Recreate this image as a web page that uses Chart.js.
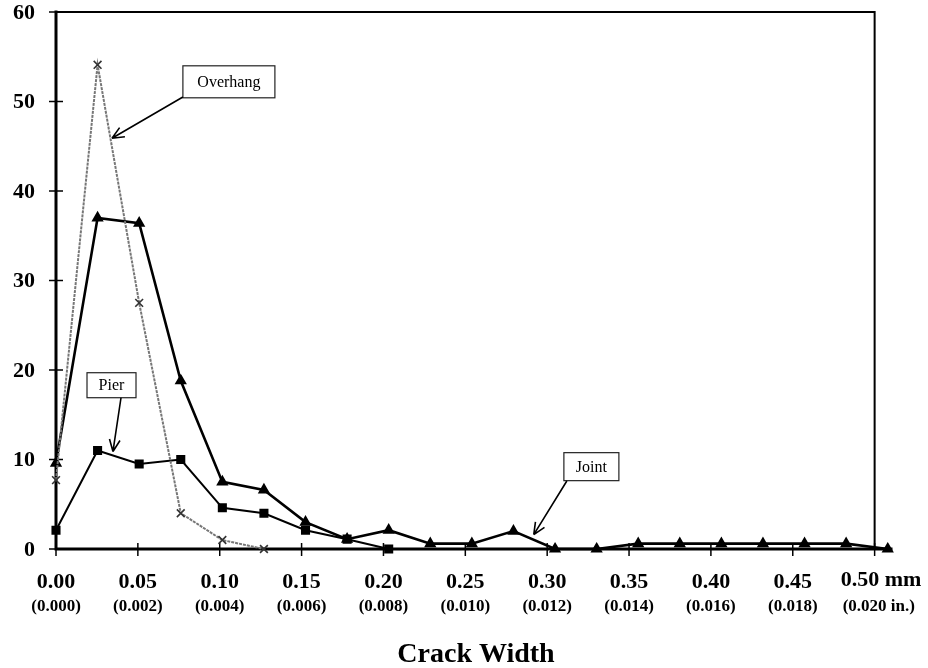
<!DOCTYPE html>
<html>
<head>
<meta charset="utf-8">
<title>Crack Width</title>
<script src="https://cdn.jsdelivr.net/npm/chart.js@4.4.1/dist/chart.umd.min.js"></script>
<style>
  html, body { margin: 0; padding: 0; background: #fff; }
  canvas { display: block; }
</style>
</head>
<body>
<canvas id="chart" width="928" height="668"></canvas>
<script>
'use strict';

// crack widths measured in steps of 0.001 in. (0.0254 mm)
const widthIn = [0.000, 0.001, 0.002, 0.003, 0.004, 0.005, 0.006, 0.007, 0.008, 0.009, 0.010,
  0.011, 0.012, 0.013, 0.014, 0.015, 0.016, 0.017, 0.018, 0.019, 0.020];
const joint = [9.6, 37, 36.4, 18.8, 7.5, 6.6, 3.0, 1.1, 2.1, 0.6, 0.6,
  2.0, 0, 0, 0.6, 0.6, 0.6, 0.6, 0.6, 0.6, 0];
const pier = [2.1, 11.0, 9.5, 10.0, 4.6, 4.0, 2.1, 1.1, 0];
const overhang = [7.7, 54.1, 27.5, 4.0, 1.0, 0];

const yTicks = [0, 10, 20, 30, 40, 50, 60];
const xTicksMm = [0, 0.05, 0.10, 0.15, 0.20, 0.25, 0.30, 0.35, 0.40, 0.45, 0.50];
const xTickLabels = ['0.00', '0.05', '0.10', '0.15', '0.20', '0.25', '0.30', '0.35', '0.40', '0.45', '0.50 mm'];
const xTickInLabels = ['(0.000)', '(0.002)', '(0.004)', '(0.006)', '(0.008)', '(0.010)', '(0.012)',
  '(0.014)', '(0.016)', '(0.018)', '(0.020 in.)'];

// callouts: label, box centre and arrow start/tip in data units (mm, count)
const callouts = [
  { text: 'Overhang', box: [0.1056, 52.2], w: 92, h: 32, from: [0.0775, 50.5], to: [0.0342, 45.9] },
  { text: 'Pier', box: [0.0339, 18.3], w: 49, h: 25, from: [0.0397, 16.9], to: [0.0348, 10.9] },
  { text: 'Joint', box: [0.327, 9.2], w: 55, h: 28, from: [0.312, 7.6], to: [0.2918, 1.6] }
];

const MM_PER_IN = 25.4;

function toPoints(values) {
  return values.map((v, i) => ({ x: widthIn[i] * MM_PER_IN, y: v }));
}

const serif = '"Liberation Serif", "DejaVu Serif", serif';

const framePlugin = {
  id: 'frame',
  beforeDatasetsDraw(chart) {
    const ctx = chart.ctx;
    const xs = chart.scales.x;
    const ys = chart.scales.y;
    const x0 = xs.getPixelForValue(0);
    const xEnd = xs.getPixelForValue(0.5);
    const y0 = ys.getPixelForValue(0);
    const yTop = ys.getPixelForValue(60);
    ctx.save();
    ctx.strokeStyle = '#000';
    ctx.lineCap = 'square';

    // top + right border
    ctx.lineWidth = 2;
    ctx.beginPath();
    ctx.moveTo(x0, yTop);
    ctx.lineTo(xEnd, yTop);
    ctx.lineTo(xEnd, y0);
    ctx.stroke();

    // axes
    ctx.lineWidth = 3;
    ctx.beginPath();
    ctx.moveTo(x0, yTop);
    ctx.lineTo(x0, y0);
    ctx.lineTo(chart.chartArea.right, y0);
    ctx.stroke();

    // ticks crossing the axes
    ctx.lineWidth = 1.5;
    ctx.lineCap = 'butt';
    yTicks.forEach(v => {
      const py = ys.getPixelForValue(v);
      ctx.beginPath();
      ctx.moveTo(x0 - 7, py);
      ctx.lineTo(x0 + 7, py);
      ctx.stroke();
    });
    xTicksMm.forEach(v => {
      const px = xs.getPixelForValue(v);
      ctx.beginPath();
      ctx.moveTo(px, y0 - 6);
      ctx.lineTo(px, y0 + 7);
      ctx.stroke();
    });
    ctx.restore();
  },
  afterDraw(chart) {
    const ctx = chart.ctx;
    const xs = chart.scales.x;
    const ys = chart.scales.y;
    ctx.save();
    ctx.fillStyle = '#000';

    // y tick labels
    ctx.font = 'bold 22px ' + serif;
    ctx.textAlign = 'right';
    ctx.textBaseline = 'middle';
    yTicks.forEach(v => {
      ctx.fillText(String(v), 35, ys.getPixelForValue(v) + 1);
    });

    // x tick labels, two lines
    ctx.textAlign = 'center';
    xTicksMm.forEach((v, i) => {
      let px = xs.getPixelForValue(v);
      let last = i === xTicksMm.length - 1;
      ctx.font = 'bold 22px ' + serif;
      if (last) {
        ctx.textAlign = 'left';
        ctx.fillText(xTickLabels[i], px - 34, 580);
      } else {
        ctx.fillText(xTickLabels[i], px, 582);
      }
      ctx.font = 'bold 17px ' + serif;
      if (last) {
        ctx.fillText(xTickInLabels[i], px - 32, 607);
      } else {
        ctx.fillText(xTickInLabels[i], px, 607);
      }
      ctx.textAlign = 'center';
    });

    // axis title
    ctx.font = 'bold 28px ' + serif;
    ctx.fillText('Crack Width', 476, 655);

    // callouts
    callouts.forEach(c => {
      const cx = xs.getPixelForValue(c.box[0]);
      const cy = ys.getPixelForValue(c.box[1]);
      const fx = xs.getPixelForValue(c.from[0]);
      const fy = ys.getPixelForValue(c.from[1]);
      const tx = xs.getPixelForValue(c.to[0]);
      const ty = ys.getPixelForValue(c.to[1]);

      ctx.fillStyle = '#fff';
      ctx.fillRect(cx - c.w / 2, cy - c.h / 2, c.w, c.h);
      ctx.strokeStyle = '#222';
      ctx.lineWidth = 1.2;
      ctx.strokeRect(cx - c.w / 2, cy - c.h / 2, c.w, c.h);
      ctx.fillStyle = '#000';
      ctx.font = '16px ' + serif;
      ctx.textBaseline = 'middle';
      ctx.fillText(c.text, cx, cy + 1);

      // arrow with open head
      ctx.strokeStyle = '#000';
      ctx.lineWidth = 1.6;
      ctx.beginPath();
      ctx.moveTo(fx, fy);
      ctx.lineTo(tx, ty);
      const ang = Math.atan2(ty - fy, tx - fx);
      const len = 13;
      ctx.moveTo(tx, ty);
      ctx.lineTo(tx - len * Math.cos(ang - 0.42), ty - len * Math.sin(ang - 0.42));
      ctx.moveTo(tx, ty);
      ctx.lineTo(tx - len * Math.cos(ang + 0.42), ty - len * Math.sin(ang + 0.42));
      ctx.stroke();
    });
    ctx.restore();
  }
};

const chartObj = new Chart(document.getElementById('chart'), {
  type: 'scatter',
  data: {
    datasets: [{
      label: 'Overhang',
      data: toPoints(overhang),
      showLine: true,
      borderColor: '#777',
      borderWidth: 2,
      borderDash: [3, 1],
      pointStyle: 'crossRot',
      pointRadius: 5.5,
      pointBorderColor: '#333',
      pointBorderWidth: 1.6,
      clip: false
    }, {
      label: 'Pier',
      data: toPoints(pier),
      showLine: true,
      borderColor: '#000',
      borderWidth: 2,
      pointStyle: 'rect',
      pointRadius: 5,
      pointBackgroundColor: '#000',
      pointBorderColor: '#000',
      clip: false
    }, {
      label: 'Joint',
      data: toPoints(joint),
      showLine: true,
      borderColor: '#000',
      borderWidth: 2.6,
      pointStyle: 'triangle',
      pointRadius: 4.5,
      pointBackgroundColor: '#000',
      pointBorderColor: '#000',
      clip: false
    }]
  },
  options: {
    responsive: false,
    animation: false,
    layout: { padding: { left: 56, top: 12, right: 37, bottom: 119 } },
    plugins: { legend: { display: false }, tooltip: { enabled: false } },
    scales: {
      x: { type: 'linear', min: 0, max: 0.51, display: false },
      y: { min: 0, max: 60, display: false }
    }
  },
  plugins: [framePlugin]
});
</script>
</body>
</html>
